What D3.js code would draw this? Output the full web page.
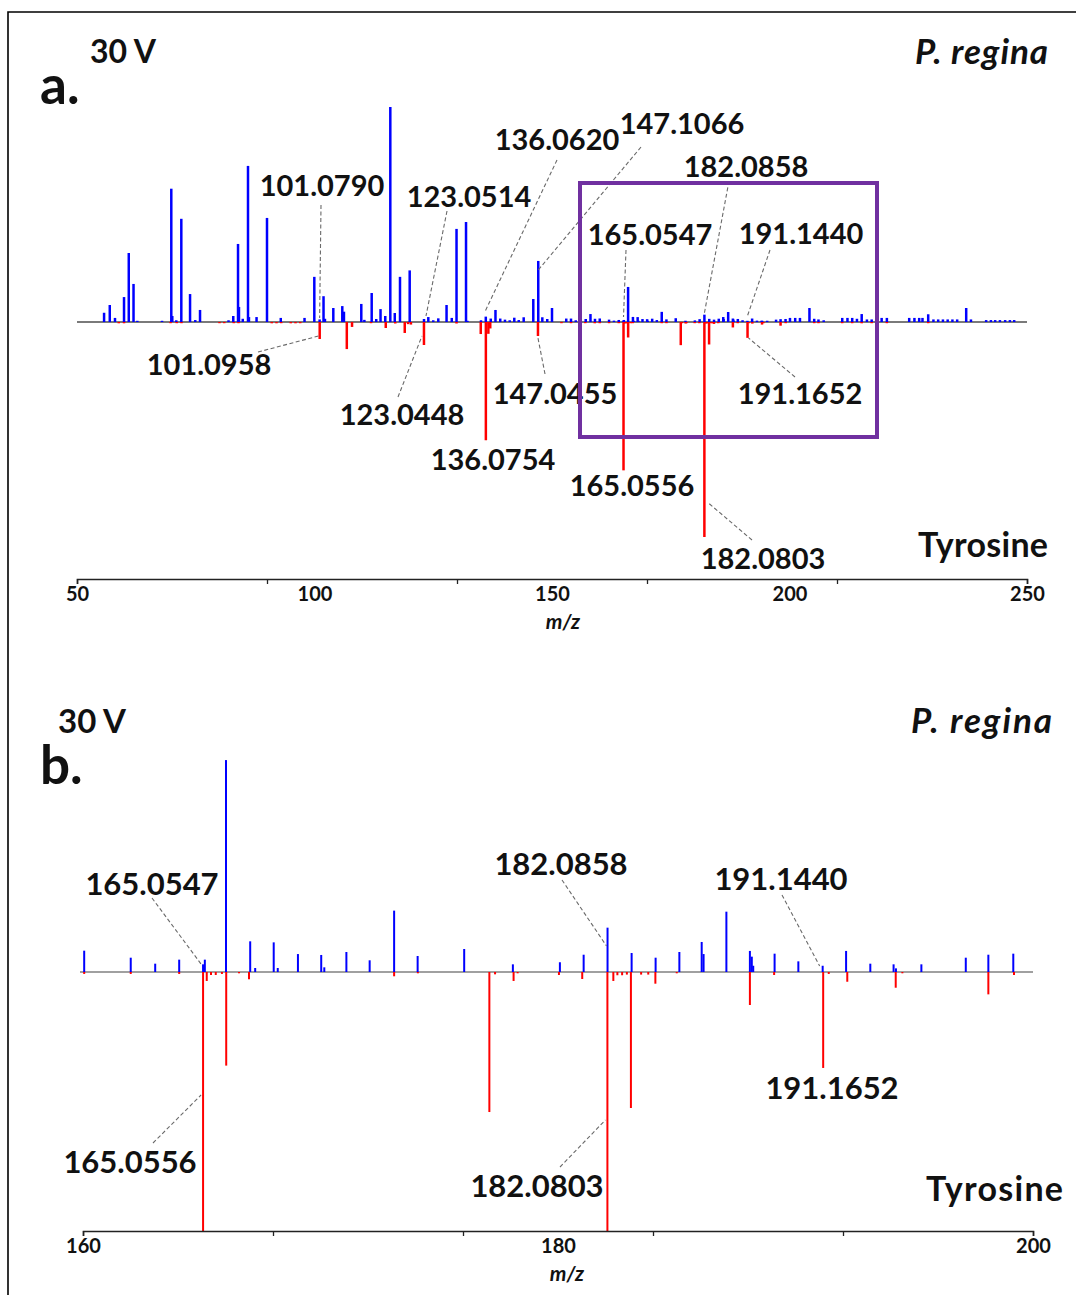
<!DOCTYPE html>
<html>
<head>
<meta charset="utf-8">
<script src="https://cdn.jsdelivr.net/npm/d3@7"></script>
<style>
  html, body { margin: 0; padding: 0; background: #fff; }
  svg { display: block; font-family: Lato, "Open Sans", sans-serif; }
</style>
</head>
<body>
<svg id="chart" width="1076" height="1295"></svg>
<script>
// Positive-mode spectrum (blue, upward) – m/z and relative intensity (%)
const blueMz = [
  55.7, 56.9, 58.0, 59.9, 60.9, 61.9, 62.7, 67.9, 69.85, 70.06, 70.9, 71.96, 73.8, 74.9, 75.9,
  81.9, 82.9, 83.9, 84.1, 84.9, 86.0, 86.2, 87.8, 90.0, 92.9, 97.9, 99.96, 101.0790, 101.9, 102.2,
  103.96, 105.85, 106.2, 109.85, 110.5, 112.04, 113.0, 113.9, 114.9, 115.96, 116.9, 118.0, 120.04,
  123.0514, 123.96, 125.0, 126.06, 127.8, 128.9, 129.9, 131.9, 132.2, 135.05, 136.0620, 137.1, 138.1,
  139.1, 140.1, 141.1, 142.06, 143.0, 144.04, 146.06, 147.1066, 147.96, 149.0, 150.0, 153.0, 154.0,
  155.0, 157.1, 158.1, 159.05,
  160.05, 162.01, 163.04, 164.05, 165.0547, 165.13, 166.02, 167.04, 167.25, 168.03, 168.20, 169.05,
  170.03, 170.16, 171.09, 172.07, 173.10, 174.09, 176.05, 178.10, 180.08, 181.08, 182.0858, 183.10,
  184.11, 185.11, 186.05, 186.13, 187.09, 188.08, 188.16, 188.22, 189.12, 190.12, 191.1440, 192.13,
  193.15, 194.13, 194.23, 195.30, 197.17, 198.12, 199.17,
  200.1, 201.2, 202.2, 204.2, 205.2, 206.1, 207.2, 211.1, 212.2, 213.2, 214.2, 215.2, 216.3, 217.3,
  219.4, 220.5, 225.2, 226.3, 227.3, 228.0, 229.2, 230.3, 231.3, 232.3, 233.3, 234.3, 235.3, 237.2,
  238.2, 241.4, 242.4, 243.3, 244.3, 245.4, 246.4, 247.3
];
const blueInt = [
  4.3, 7.9, 1.9, 11.6, 32.1, 17.7, 0.5, 0.4, 62.0, 2.8, 0.8, 48.0, 13.0, 0.9, 5.6,
  0.8, 2.8, 36.3, 7.0, 1.5, 72.6, 2.3, 2.3, 48.4, 1.9, 1.9, 21.0, 1.2, 12.0, 1.5,
  6.5, 7.4, 4.8, 8.4, 1.0, 13.5, 1.4, 6.0, 2.8, 100, 4.2, 21.0, 24.0,
  1.4, 2.3, 0.8, 1.7, 7.9, 1.9, 43.3, 46.5, 0.4, 0.8, 2.5, 1.6, 5.6,
  1.6, 1.1, 0.8, 2.0, 0.9, 2.2, 10.7, 28.4, 2.2, 1.4, 6.5, 1.6, 1.6,
  0.8, 1.4, 3.7, 1.5,
  1.64, 1.10, 0.64, 0.95, 0.59, 0.95, 16.3, 2.36, 0.31, 2.28, 0.31, 1.38,
  1.31, 0.36, 1.54, 0.90, 4.72, 1.23, 1.77, 0.59, 0.75, 1.33, 3.41, 1.46,
  1.10, 1.54, 2.31, 1.38, 4.64, 1.62, 1.18, 0.48, 1.41, 0.82, 0.48, 1.62,
  0.64, 0.59, 0.28, 0.59, 1.10, 1.33, 1.41,
  1.9, 1.9, 1.9, 6.5, 1.5, 1.2, 0.8, 1.9, 1.9, 1.9, 1.5, 3.7, 1.2, 1.2,
  1.9, 1.9, 1.9, 1.9, 1.9, 1.9, 3.6, 1.2, 1.2, 1.2, 1.2, 1.2, 1.2, 6.5,
  1.2, 0.9, 0.9, 0.9, 0.9, 0.9, 0.9, 0.9
];

// Tyrosine reference spectrum (red, downward) – m/z and relative intensity (%)
const redMz = [
  58.8, 59.9, 69.7, 71.0, 72.0, 80.0, 81.0, 83.0, 84.0, 91.0, 92.0, 93.0, 95.0, 96.0, 97.0,
  101.0958, 106.8, 107.9, 111.9, 115.0, 117.0, 119.0, 119.7, 120.3, 123.0448, 129.9, 135.0,
  136.0754, 136.6, 137.0, 147.0455, 152.0, 154.0, 157.0, 159.0,
  160.05, 162.01, 164.05, 165.0556, 165.21, 165.39, 165.59, 165.85, 166.03, 166.57, 166.99,
  173.10, 174.1, 177.11, 177.35, 178.13, 178.3, 180.04, 181.02, 182.0803, 182.33, 182.5, 182.7,
  182.9, 183.07, 183.5, 183.8, 184.10, 185.0, 188.08, 189.10, 191.1652, 191.4, 192.18, 194.22,
  194.5, 198.12, 199.20,
  205.2, 206.1, 211.1, 213.2, 215.2, 217.3, 220.5, 229.2
];
const redInt = [
  0.6, 0.6, 0.5, 0.5, 0.5, 0.5, 0.5, 0.4, 0.5, 0.6, 0.6, 0.5, 0.6, 0.6, 0.5,
  7.9, 12.6, 2.3, 0.5, 2.8, 0.7, 5.1, 1.0, 1.2, 10.7, 0.7, 5.6,
  55.0, 5.5, 3.0, 6.5, 0.5, 0.5, 0.5, 0.6,
  0.15, 0.15, 0.15, 69.0, 0.69, 0.23, 0.23, 0.15, 7.2, 0.1, 0.56,
  0.33, 0.1, 10.77, 0.18, 0.69, 0.1, 0.23, 0.54, 100, 0.69, 0.25, 0.25,
  0.2, 10.46, 0.2, 0.2, 0.9, 0.1, 2.54, 0.23, 7.38, 0.15, 0.75, 1.21,
  0.1, 1.72, 0.23,
  0.5, 0.5, 0.5, 0.5, 0.6, 0.5, 0.4, 0.4
];

// Annotated peaks
const labelledBlueA = [101.0790, 123.0514, 136.0620, 147.1066, 165.0547, 182.0858, 191.1440];
const labelledRedA  = [101.0958, 123.0448, 136.0754, 147.0455, 165.0556, 182.0803, 191.1652];
const labelledBlueB = [165.0547, 182.0858, 191.1440];
const labelledRedB  = [165.0556, 182.0803, 191.1652];

// Axis ticks and labels
const tickMarksA = [50, 90, 130, 170, 210, 250];
const tickLabelsA = [50, 100, 150, 200, 250];
const tickMarksB = [160, 168, 176, 184, 192, 200];
const tickLabelsB = [160, 180, 200];

const svg = d3.select("#chart");
const fmt = d3.format(".4f");
const BLUE = "#0000ff", RED = "#ff0000";

const blue = blueMz.map((m, i) => ({ mz: m, v: blueInt[i] }));
const red = redMz.map((m, i) => ({ mz: m, v: redInt[i] }));

// frame
svg.append("path").attr("d", "M8,1295V12H1076")
  .attr("fill", "none").attr("stroke", "#000").attr("stroke-width", 1.6);

function panel(cfg) {
  const g = svg.append("g");
  const x = cfg.x, yUp = cfg.yUp, yDown = cfg.yDown;
  const [d0, d1] = x.domain();
  const inRange = d => d.mz >= d0 && d.mz <= d1;

  // baseline
  g.append("line")
    .attr("x1", cfg.baseX0).attr("x2", cfg.baseX1)
    .attr("y1", yUp(0)).attr("y2", yUp(0))
    .attr("stroke", cfg.baseColor).attr("stroke-width", 2);

  // red downward peaks
  g.append("g").selectAll("line").data(red.filter(inRange)).join("line")
    .attr("x1", d => x(d.mz)).attr("x2", d => x(d.mz))
    .attr("y1", yDown(0)).attr("y2", d => Math.max(yDown(d.v), yDown(0) + 1.2))
    .attr("stroke", RED).attr("stroke-width", cfg.lw);

  // blue upward peaks
  g.append("g").selectAll("line").data(blue.filter(inRange)).join("line")
    .attr("x1", d => x(d.mz)).attr("x2", d => x(d.mz))
    .attr("y1", yUp(0)).attr("y2", d => Math.min(yUp(d.v), yUp(0) - 1.2))
    .attr("stroke", BLUE).attr("stroke-width", cfg.lw);

  // axis: tick marks and labels are placed independently
  const ax = g.append("g").attr("transform", `translate(0,${cfg.axisY})`);
  ax.call(d3.axisBottom(x).tickValues(cfg.tickMarks).tickSize(5).tickFormat(""))
    .call(s => s.select(".domain").attr("stroke", "#222").attr("stroke-width", 1.6))
    .call(s => s.selectAll(".tick line").attr("stroke", "#222").attr("stroke-width", 1.3));
  const lab = g.append("g").attr("transform", `translate(0,${cfg.axisY})`);
  lab.call(d3.axisBottom(x).tickValues(cfg.tickLabels).tickSize(0).tickPadding(8))
    .call(s => s.select(".domain").remove())
    .call(s => s.selectAll(".tick text")
      .attr("font-family", "Lato, sans-serif").attr("font-weight", 700)
      .attr("font-size", 20).attr("fill", "#111"));
  g.append("text").attr("x", x((d0 + d1) / 2) + cfg.mzShift).attr("y", cfg.axisY + 50)
    .attr("text-anchor", "middle").attr("font-size", 21).attr("font-style", "italic")
    .attr("font-weight", 700).attr("fill", "#111").text("m/z");

  // titles
  const t = (txt, tx, ty, size, anchor, style, len) => {
    const el = g.append("text")
      .attr("x", tx).attr("y", ty).attr("text-anchor", anchor)
      .attr("font-size", size).attr("font-weight", 700)
      .attr("font-style", style || "normal").attr("fill", "#111").text(txt);
    if (len) el.attr("textLength", len).attr("lengthAdjust", "spacing");
    return el;
  };
  t("30 V", cfg.volt[0], cfg.volt[1], cfg.voltSize, "middle");
  t(cfg.letter, cfg.letterPos[0], cfg.letterPos[1], 53, "start");
  t("P. regina", cfg.species[0], cfg.species[1], 35, "end", "italic", cfg.species[2]);
  t("Tyrosine", cfg.tyr[0], cfg.tyr[1], 34, "end", "normal", cfg.tyr[2]);

  // peak annotations
  cfg.notes.forEach(n => {
    const px = x(n.mz);
    if (n.leader) {
      const [lx, ly, ex, ey] = n.leader;
      g.append("line")
        .attr("x1", lx).attr("y1", ly).attr("x2", px + ex).attr("y2", ey)
        .attr("stroke", "#6a6a6a").attr("stroke-width", 1.1)
        .attr("stroke-dasharray", "4,2.5");
    }
    g.append("text").attr("x", n.pos[0]).attr("y", n.pos[1])
      .attr("text-anchor", "middle").attr("dominant-baseline", "central")
      .attr("font-size", cfg.noteSize).attr("font-weight", 700).attr("fill", "#111")
      .text(fmt(n.mz));
  });
}

// panel a: full range
const xA = d3.scaleLinear().domain([50, 250]).range([77, 1027]);
const yAUp = d3.scaleLinear().domain([0, 100]).range([322, 107]);
const yADown = d3.scaleLinear().domain([0, 100]).range([322, 537]);

// text positions for panel a annotations, in list order
const notePosA = {
  blue: [
    { pos: [322, 184], leader: [321, 205, 0, 318] },
    { pos: [469, 195], leader: [447, 211, 2, 316] },
    { pos: [557, 138], leader: [557, 160, -1, 312] },
    { pos: [682, 122], leader: [641, 147, 0, 270] },
    { pos: [650, 233], leader: [626, 250, 0, 317] },
    { pos: [746, 165], leader: [729, 181, 0, 313] },
    { pos: [801, 232], leader: [770, 250, 0, 316] }
  ],
  red: [
    { pos: [209, 363], leader: [258, 352, -1, 336] },
    { pos: [402, 413], leader: [398, 397, -2, 336] },
    { pos: [493, 458] },
    { pos: [555, 392], leader: [545, 374, 0, 338] },
    { pos: [632, 484] },
    { pos: [763, 557], leader: [752, 540, 4, 503] },
    { pos: [800, 392], leader: [795, 377, 1, 338] }
  ]
};
panel({
  x: xA, yUp: yAUp, yDown: yADown, lw: 2.5, noteSize: 29,
  baseX0: 77, baseX1: 1027, baseColor: "#7a7a7a",
  axisY: 579, tickMarks: tickMarksA, tickLabels: tickLabelsA, mzShift: 11,
  volt: [123, 63], voltSize: 32, letter: "a.", letterPos: [40, 104],
  species: [1048, 64, 133], tyr: [1048, 557, 130],
  notes: labelledBlueA.map((m, i) => ({ mz: m, ...notePosA.blue[i] }))
    .concat(labelledRedA.map((m, i) => ({ mz: m, ...notePosA.red[i] })))
});

// highlighted zoom window
svg.append("rect").attr("x", 580).attr("y", 183).attr("width", 297).attr("height", 254)
  .attr("fill", "none").attr("stroke", "#7030a0").attr("stroke-width", 4);

// panel b: 160–200 zoom
const xB = d3.scaleLinear().domain([160, 200]).range([83, 1033]);
const yBUp = d3.scaleLinear().domain([0, 19.92]).range([972, 713]);
const yBDown = d3.scaleLinear().domain([0, 19.92]).range([972, 1231]).clamp(true);
const notePosB = {
  blue: [
    { pos: [152, 883], leader: [152, 898, -2, 964] },
    { pos: [561, 863], leader: [562, 880, -1, 946] },
    { pos: [781, 878], leader: [782, 895, -3, 966] }
  ],
  red: [
    { pos: [130, 1161], leader: [153, 1143, -2, 1095] },
    { pos: [537, 1185], leader: [560, 1167, -2, 1120] },
    { pos: [832, 1087] }
  ]
};
panel({
  x: xB, yUp: yBUp, yDown: yBDown, lw: 2, noteSize: 31,
  baseX0: 80, baseX1: 1033, baseColor: "#a0a0a0",
  axisY: 1231, tickMarks: tickMarksB, tickLabels: tickLabelsB, mzShift: 9,
  volt: [92, 733], voltSize: 33, letter: "b.", letterPos: [40, 784],
  species: [1052, 733, 141], tyr: [1063, 1201, 137],
  notes: labelledBlueB.map((m, i) => ({ mz: m, ...notePosB.blue[i] }))
    .concat(labelledRedB.map((m, i) => ({ mz: m, ...notePosB.red[i] })))
});
</script>
</body>
</html>
